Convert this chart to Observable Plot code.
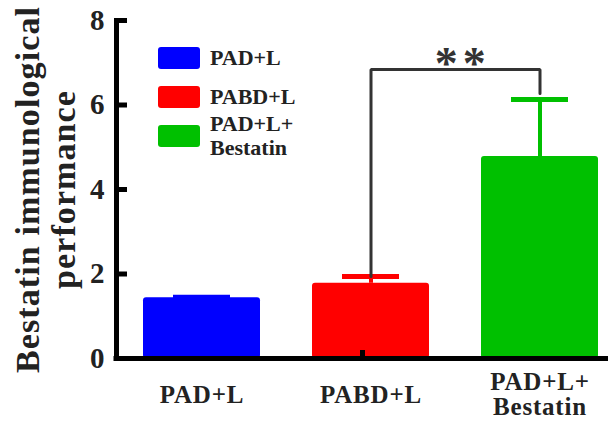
<!DOCTYPE html>
<html>
<head>
<meta charset="utf-8">
<script src="https://cdn.jsdelivr.net/npm/d3@7"></script>
<script src="https://cdn.jsdelivr.net/npm/@observablehq/plot@0.6"></script>
<style>
  html, body { margin: 0; padding: 0; background: #fff; }
  #chart { position: relative; width: 608px; height: 425px; overflow: hidden; }
  #chart svg { position: absolute; left: 0; top: 0; }
  .legend {
    position: absolute; left: 158px; top: 47px;
    font: bold 22px "Liberation Serif", "Times New Roman", serif;
    color: #222; line-height: 24px;
  }
  .legend .item { display: flex; align-items: center; height: 22px; margin-bottom: 17px; }
  .legend .sw { width: 42px; height: 22px; border-radius: 3px; margin-right: 10px; flex: none; }
  .legend .txt { white-space: pre; }
</style>
</head>
<body>
<div id="chart"></div>
<script>
// Groups, their axis labels and colours
const groups = ["PAD+L", "PABD+L", "PAD+L+Bestatin"];
const groupLabels = ["PAD+L", "PABD+L", "PAD+L+\nBestatin"];
const groupColors = ["#0000ff", "#ff0000", "#00c000"];

// Mean and error (upper bar) per group
const means = [1.44, 1.78, 4.78];
const errors = [0.01, 0.16, 1.35];

// Y axis ticks and title
const yTicks = [0, 2, 4, 6, 8];
const yTitle = "Bestatin immunological\nperformance";

// Significance bracket between two groups
const sigPair = ["PABD+L", "PAD+L+Bestatin"];
const sigLevel = 6.84;
const sigRightEnd = 6.27;
const sigLabel = "**";

const rows = groups.map((g, i) => ({group: g, label: groupLabels[i], mean: means[i], err: errors[i]}));

const serif = '"Liberation Serif", "Times New Roman", serif';
const xOpts = {domain: groups, range: [143, 598], paddingInner: 0.308, paddingOuter: 0, axis: null};
const xs = Plot.scale({x: xOpts});
const pairGap = xs.apply(sigPair[1]) - xs.apply(sigPair[0]);

const iRed = groups.indexOf(sigPair[0]);
const bracket = [
  {g: sigPair[0], v: means[iRed] + errors[iRed]},
  {g: sigPair[0], v: sigLevel},
  {g: sigPair[1], v: sigLevel},
  {g: sigPair[1], v: sigRightEnd}
];

const chart = Plot.plot({
  width: 608,
  height: 425,
  marginLeft: 116,
  marginRight: 0,
  marginTop: 20,
  marginBottom: 67,
  style: {fontFamily: serif, color: "#222", background: "transparent"},
  x: xOpts,
  y: {domain: [0, 8], axis: null},
  color: {domain: groups, range: groupColors},
  marks: [
    Plot.barY(rows, {x: "group", y: "mean", fill: "group", rx: 3}),
    Plot.ruleX(rows, {x: "group", y1: "mean", y2: d => d.mean + d.err, stroke: "group", strokeWidth: 4}),
    Plot.tickY(rows, {x: "group", y: d => d.mean + d.err, stroke: "group", strokeWidth: 5, insetLeft: 30, insetRight: 30}),
    Plot.line(bracket, {x: "g", y: "v", stroke: "#333", strokeWidth: 3, strokeLinejoin: "miter"}),
    Plot.text([sigLabel], {x: () => sigPair[0], y: () => sigLevel, dx: pairGap / 2 + 16, dy: -5,
      fontSize: 46, fontWeight: "bold", fill: "#333", ariaLabel: () => "significance"}),
    // axes: lines, inward ticks, labels
    Plot.frame({anchor: "left", stroke: "#000", strokeWidth: 5, strokeLinecap: "square"}),
    Plot.ruleY([0], {stroke: "#000", strokeWidth: 5, strokeLinecap: "square"}),
    Plot.axisY(yTicks, {tickSize: 11, dx: 11, strokeWidth: 5, stroke: "#000", fill: "none"}),
    Plot.axisY(yTicks, {tickSize: 0, tickPadding: 12, fontSize: 29, fontWeight: "bold", fill: "#222"}),
    Plot.axisX(groups, {x: xOpts, tickSize: 8, dy: -8, strokeWidth: 5, stroke: "#000", fill: "none"}),
    Plot.text(rows, {x: "group", text: "label", frameAnchor: "bottom", dy: 36, lineAnchor: "middle",
      fontSize: 25, fontWeight: "bold", lineHeight: 1.02, fill: "#222", ariaLabel: () => "group-label"}),
    Plot.text([yTitle], {frameAnchor: "left", rotate: -90, dx: -71, dy: 0, textAnchor: "middle", lineAnchor: "middle",
      fontSize: 34, fontWeight: "bold", lineHeight: 1.06, fill: "#222", ariaLabel: () => "y-title"})
  ]
});

// Letter spacing for the spaced-out serif lettering
const svg = d3.select(chart);
svg.selectAll('text[aria-label="y-title"]').style("letter-spacing", "1.1px");
svg.selectAll('text[aria-label="group-label"]').style("letter-spacing", "0.8px");
svg.selectAll('text[aria-label="significance"]').style("letter-spacing", "5px");

const root = document.getElementById("chart");
root.appendChild(chart);

// Legend
const legend = document.createElement("div");
legend.className = "legend";
groups.forEach((g, i) => {
  const item = document.createElement("div");
  item.className = "item";
  const sw = document.createElement("span");
  sw.className = "sw";
  sw.style.background = groupColors[i];
  const t = document.createElement("span");
  t.className = "txt";
  t.textContent = groupLabels[i];
  item.appendChild(sw);
  item.appendChild(t);
  legend.appendChild(item);
});
root.appendChild(legend);
</script>
</body>
</html>
